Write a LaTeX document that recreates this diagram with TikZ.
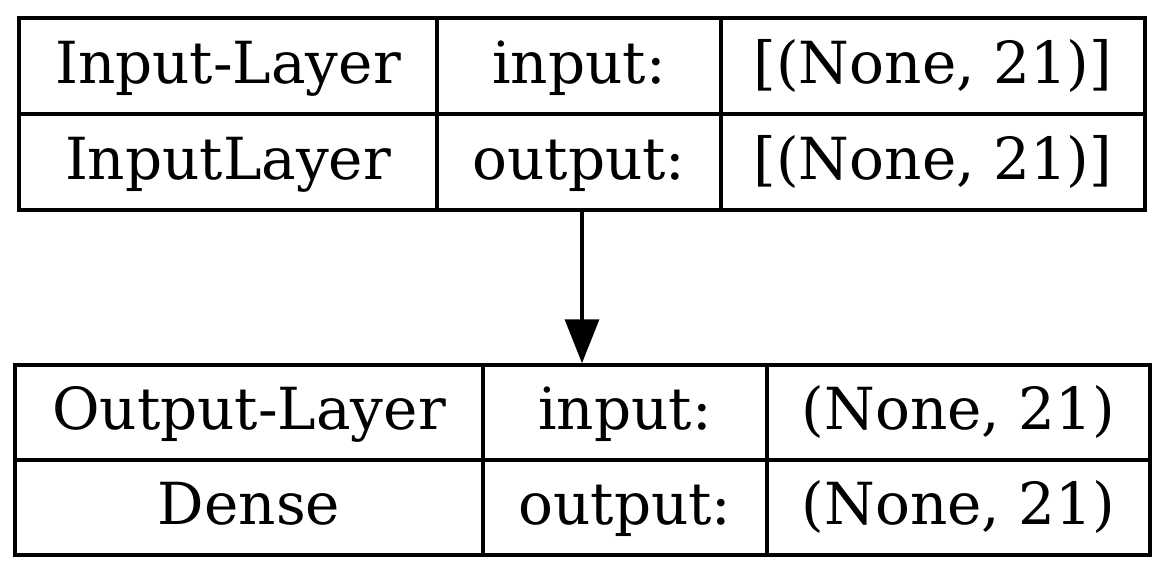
\documentclass[tikz,border=0pt]{standalone}
\usepackage{fontspec}
\setmainfont{DejaVu Serif}
\usepackage{tikz}
\usetikzlibrary{arrows.meta, fit}
\tikzset{every picture/.style={line width=3.5pt}}
\tikzset{cell/.style={draw, rectangle, inner sep=0pt, font=\fontsize{58}{70}\selectfont, text height=42.7pt, text depth=8.2pt}}
\tikzset{layerbox/.style={rectangle, inner sep=0pt, outer sep=0pt}}

\begin{document}
\begin{tikzpicture}[x=1pt,y=1pt,yscale=-1,xscale=1]
    \useasboundingbox (0,0) rectangle (1167,575);
    % input layer
    \draw (228,66) node [cell, minimum width=418pt, minimum height=96pt] (inname) {Input-Layer};
    \draw (579,66) node [cell, minimum width=284pt, minimum height=96pt] (inin) {input:};
    \draw (933,66) node [cell, minimum width=424pt, minimum height=96pt] (ininshape) {[(None, 21)]};
    \draw (228,162) node [cell, minimum width=418pt, minimum height=96pt] (intype) {InputLayer};
    \draw (579,162) node [cell, minimum width=284pt, minimum height=96pt] (inout) {output:};
    \draw (933,162) node [cell, minimum width=424pt, minimum height=96pt] (inoutshape) {[(None, 21)]};
    % output layer
    \draw (249,412.5) node [cell, minimum width=468pt, minimum height=95pt] (outname) {Output-Layer};
    \draw (625,412.5) node [cell, minimum width=284pt, minimum height=95pt] (outin) {input:};
    \draw (958.5,412.5) node [cell, minimum width=383pt, minimum height=95pt] (outinshape) {(None, 21)};
    \draw (249,507.5) node [cell, minimum width=468pt, minimum height=95pt] (outtype) {Dense};
    \draw (625,507.5) node [cell, minimum width=284pt, minimum height=95pt] (outout) {output:};
    \draw (958.5,507.5) node [cell, minimum width=383pt, minimum height=95pt] (outoutshape) {(None, 21)};
    \node [layerbox, fit=(inname) (inoutshape)] (inbox) {};
    \node [layerbox, fit=(outname) (outoutshape)] (outbox) {};
    \draw [-{Triangle[length=44pt,width=34pt]}] (inbox.south) -- (inbox.south |- outbox.north);
\end{tikzpicture}
\end{document}
